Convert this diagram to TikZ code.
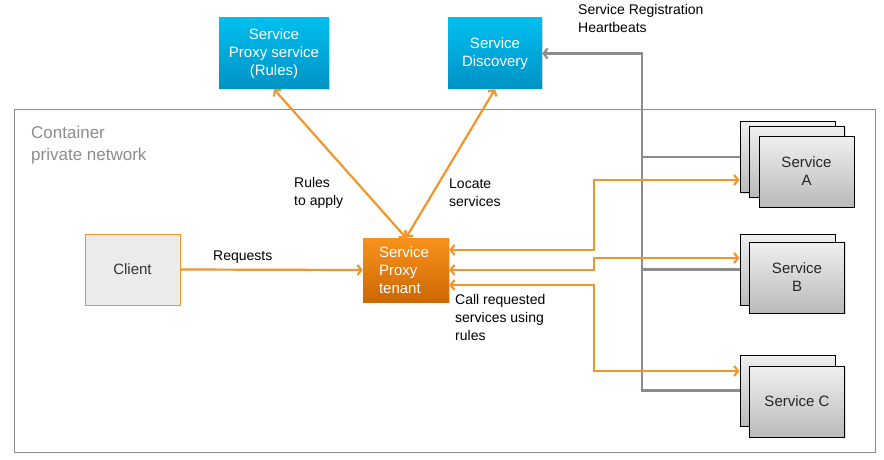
\documentclass[tikz,border=0pt]{standalone}
\usepackage{fontspec}
\setmainfont{Liberation Sans}
\usetikzlibrary{arrows.meta,shadows}
\definecolor{proxyorange}{HTML}{F0962A}
\definecolor{linegray}{HTML}{8C8C8C}
\definecolor{cyantop}{HTML}{00BFEF}
\definecolor{cyanbottom}{HTML}{0092C4}
\definecolor{proxytop}{HTML}{F8921C}
\definecolor{proxybottom}{HTML}{CC6804}
\begin{document}
\begin{tikzpicture}[x=1pt,y=-1pt,>={Straight Barb[length=4pt,width=10pt]},
    boxtext/.style={font=\fontsize{15}{18}\selectfont,align=center,inner sep=0},
    cloud/.style={boxtext,text=white,top color=cyantop,bottom color=cyanbottom,
      drop shadow={opacity=.25,shadow xshift=1pt,shadow yshift=-1pt}},
    svc/.style={boxtext,draw=black,line width=1pt,text=black!85,top color=black!6,bottom color=black!27,
      minimum width=95pt,minimum height=71pt,drop shadow={opacity=.25,shadow xshift=1pt,shadow yshift=-1pt}},
    label/.style={font=\fontsize{14}{18}\selectfont,align=left,inner sep=0,anchor=west},
    orangeline/.style={draw=proxyorange,line width=2.2pt},
    grayline/.style={draw=linegray,line width=2.2pt}]
    \useasboundingbox (0,0) rectangle (884,460);
    % container
    \draw[linegray,line width=1pt] (14,109) rectangle (875,452);
    \node[label,text=linegray,font=\fontsize{17}{22}\selectfont] (net) at (31,145) {Container\\private network};
    % outside services
    \node[cloud,minimum width=110pt,minimum height=71pt] (rules) at (274,53.5) {Service\\Proxy service\\(Rules)};
    \node[cloud,minimum width=94pt,minimum height=71pt] (disc) at (495,53.5) {Service\\Discovery};
    \node[label] (reg) at (578,18) {Service Registration\\Heartbeats};
    % client and proxy
    \node[boxtext,draw=proxyorange,line width=1pt,fill=black!8,text=black!80,minimum width=95pt,minimum height=71pt,
      drop shadow={opacity=.25,shadow xshift=1pt,shadow yshift=-1pt}] (client) at (132.5,269.5) {Client};
    \node[boxtext,align=left,text=white,top color=proxytop,bottom color=proxybottom,
      minimum width=86pt,minimum height=64pt,text width=54pt,
      drop shadow={opacity=.25,shadow xshift=1pt,shadow yshift=-1pt}] (proxy) at (406,270) {Service\\Proxy\\tenant};
    % service instances
    \node[svc] (sa1) at (787.5,157) {};
    \node[svc] (sa2) at (797,161.5) {};
    \node[svc] (sa3) at (806.5,171.5) {Service\\A};
    \node[svc] (sb1) at (787.5,269.5) {};
    \node[svc] (sb2) at (797,277.5) {Service\\B};
    \node[svc] (sc1) at (787.5,390.5) {};
    \node[svc] (sc2) at (797,401.5) {Service C};
    % registration bus
    \coordinate (bus) at ([xshift=100pt]disc.east);
    \draw[grayline,->] (sc1.west) -| (bus) -- (disc.east);
    \draw[grayline] (sa1.west) -- (sa1.west -| bus);
    \draw[grayline] (sb1.west) -- (sb1.west -| bus);
    % proxy connections
    \draw[orangeline,->] (client.east) -- (proxy.west);
    \node[label] (req) at (213,257) {Requests};
    \draw[orangeline,<->] (rules.south) -- (proxy.north);
    \draw[orangeline,<->] (disc.south) -- (proxy.north);
    \node[label] (apply) at (294,193) {Rules\\to apply};
    \node[label] (locate) at (449,193) {Locate\\services};
    \draw[orangeline,<->] ([yshift=20pt]proxy.east) -| (594,215) |- ([yshift=-23pt]sa1.west);
    \draw[orangeline,<->] (proxy.east) -| (594,264) |- ([yshift=11.5pt]sb1.west);
    \draw[orangeline,<->] ([yshift=-15pt]proxy.east) -| (594,330) |- ([yshift=19.5pt]sc1.west);
    \node[label] (call) at (455,317.5) {Call requested\\services using\\rules};
\end{tikzpicture}
\end{document}
